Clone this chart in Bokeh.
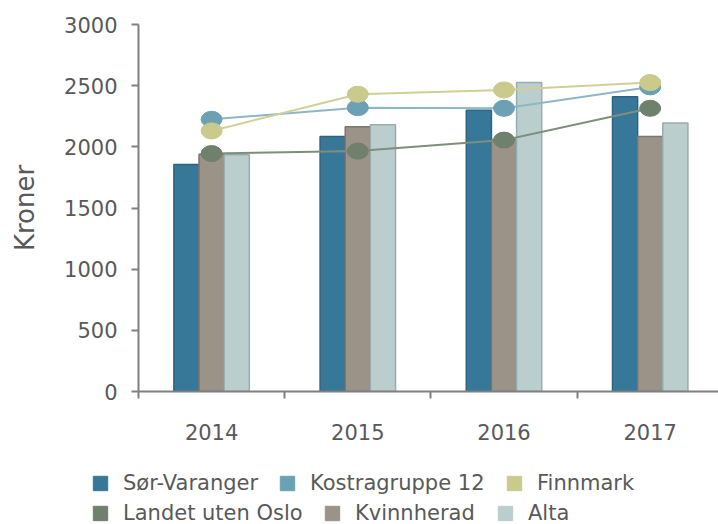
from bokeh.plotting import figure
from bokeh.models import Range1d, FixedTicker, Legend, LegendItem, ColumnDataSource
from bokeh.transform import dodge
from bokeh.embed import file_html
from bokeh.resources import INLINE

# ---- data ----
years = ["2014", "2015", "2016", "2017"]
sor_varanger = [1855, 2085, 2300, 2410]
kvinnherad = [1940, 2165, 2060, 2085]
alta = [1935, 2180, 2525, 2195]
kostragruppe_12 = [2225, 2320, 2315, 2490]
finnmark = [2130, 2430, 2465, 2525]
landet_uten_oslo = [1945, 1965, 2055, 2315]
y_ticks = [0, 500, 1000, 1500, 2000, 2500, 3000]

series_names = ["Sør-Varanger", "Kostragruppe 12", "Finnmark",
                "Landet uten Oslo", "Kvinnherad", "Alta"]

# ---- styles ----
FONT = "DejaVu Sans"
TXT = "#595959"
AX = "#808080"
C = {
    "Sør-Varanger": "#377898",
    "Kostragruppe 12": "#6ca1b5",
    "Finnmark": "#c9ca8b",
    "Landet uten Oslo": "#6f806d",
    "Kvinnherad": "#9b9288",
    "Alta": "#bacece",
}
EDGE = {"Sør-Varanger": "#2b6581", "Kvinnherad": "#7d756e", "Alta": "#98adad"}
LINEC = {"Kostragruppe 12": "#8db7c7", "Finnmark": "#cfd098", "Landet uten Oslo": "#7f8e7c"}

xpos = [i + 0.5 for i in range(len(years))]
src = ColumnDataSource(dict(x=xpos, sor=sor_varanger, kvi=kvinnherad, alta=alta,
                            kos=kostragruppe_12, fin=finnmark, lan=landet_uten_oslo))

cat_px = 146.2
frame_left = 138
fig_w = 718
x_end = (fig_w - frame_left) / cat_px

p = figure(width=fig_w, height=451, x_range=Range1d(0, x_end), y_range=Range1d(0, 3000),
           output_backend="svg", toolbar_location=None,
           min_border_left=frame_left, min_border_right=0, min_border_top=24, min_border_bottom=60)
p.outline_line_color = None
p.xgrid.visible = False
p.ygrid.visible = False

bw = 0.172
p.vbar(x=dodge("x", -bw, range=p.x_range), top="sor", width=bw, source=src,
       fill_color=C["Sør-Varanger"], line_color=EDGE["Sør-Varanger"], line_width=1.5)
p.vbar(x=dodge("x", 0, range=p.x_range), top="kvi", width=bw, source=src,
       fill_color=C["Kvinnherad"], line_color=EDGE["Kvinnherad"], line_width=1.5)
p.vbar(x=dodge("x", bw, range=p.x_range), top="alta", width=bw, source=src,
       fill_color=C["Alta"], line_color=EDGE["Alta"], line_width=1.5)

for col, name in [("lan", "Landet uten Oslo"), ("kos", "Kostragruppe 12"), ("fin", "Finnmark")]:
    p.line(x="x", y=col, source=src, line_color=LINEC[name], line_width=2)
    p.ellipse(x="x", y=col, width=21, height=16, width_units="screen", height_units="screen",
              source=src, fill_color=C[name], line_color=C[name])

# y axis
ya = p.yaxis[0]
ya.ticker = FixedTicker(ticks=y_ticks, minor_ticks=[])
ya.axis_line_color = AX
ya.axis_line_width = 2
ya.major_tick_line_color = AX
ya.major_tick_line_width = 2
ya.major_tick_out = 7
ya.major_tick_in = 0
ya.minor_tick_line_color = None
ya.major_label_standoff = 14
ya.major_label_text_font = FONT
ya.major_label_text_font_size = "21px"
ya.major_label_text_color = TXT
ya.axis_label = "Kroner"
ya.axis_label_text_font = FONT
ya.axis_label_text_font_size = "26px"
ya.axis_label_text_font_style = "normal"
ya.axis_label_text_color = TXT
ya.axis_label_standoff = 21

# x axis
xa = p.xaxis[0]
xa.ticker = FixedTicker(ticks=xpos, minor_ticks=list(range(len(years))))
xa.major_label_overrides = {x: y for x, y in zip(xpos, years)}
xa.axis_line_color = AX
xa.axis_line_width = 2
xa.major_tick_line_color = None
xa.major_tick_out = 7
xa.major_tick_in = 0
xa.minor_tick_line_color = AX
xa.minor_tick_line_width = 2
xa.minor_tick_out = 7
xa.minor_tick_in = 0
xa.major_label_standoff = 25
xa.major_label_text_font = FONT
xa.major_label_text_font_size = "21px"
xa.major_label_text_color = TXT

# ---- legend figure (separate root, frame covers the whole canvas) ----
lf = figure(width=fig_w, height=73, x_range=Range1d(0, 1), y_range=Range1d(0, 1),
            output_backend="svg", toolbar_location=None,
            x_axis_location=None, y_axis_location=None,
            min_border_left=0, min_border_right=0, min_border_top=0, min_border_bottom=0)
lf.outline_line_color = None
lf.xgrid.visible = False
lf.ygrid.visible = False

dummy = {}
for name in series_names:
    # swatch-only renderers, placed outside the visible range
    dummy[name] = lf.vbar(x=[-10], top=[0], width=0.1, fill_color=C[name], line_color=C[name])

row1_y, row2_y = 29, -1
places = {
    "Sør-Varanger": (91, row1_y),
    "Kostragruppe 12": (278, row1_y),
    "Finnmark": (505, row1_y),
    "Landet uten Oslo": (91, row2_y),
    "Kvinnherad": (323, row2_y),
    "Alta": (496, row2_y),
}
for name in series_names:
    lg = Legend(items=[LegendItem(label=name, renderers=[dummy[name]])],
                location=places[name], orientation="horizontal",
                padding=0, margin=0, spacing=0, label_standoff=14,
                glyph_width=18, glyph_height=18, label_height=25,
                border_line_color=None, background_fill_alpha=0,
                label_text_font=FONT, label_text_font_size="21px", label_text_color=TXT)
    lf.add_layout(lg, "center")

open("out.html", "w").write(file_html([p, lf], INLINE))
